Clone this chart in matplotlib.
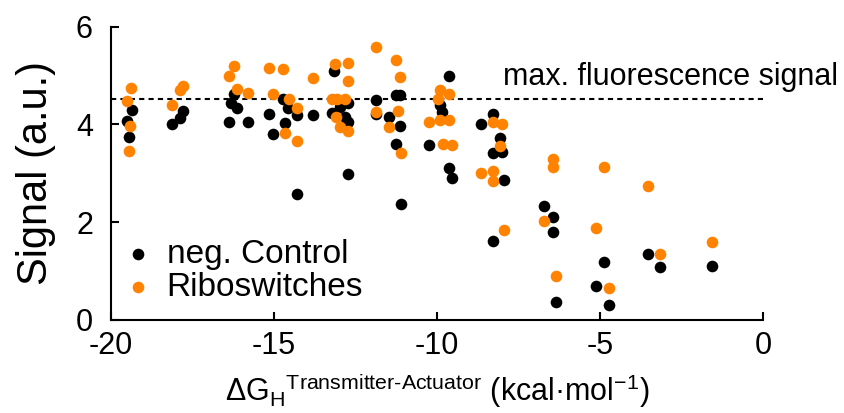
import matplotlib
matplotlib.use('Agg')
import matplotlib.pyplot as plt

plt.rcParams['font.family'] = ['Liberation Sans', 'DejaVu Sans']
plt.rcParams['axes.unicode_minus'] = False
plt.rcParams['mathtext.fontset'] = 'custom'
plt.rcParams['mathtext.rm'] = 'Liberation Sans'
plt.rcParams['mathtext.it'] = 'Liberation Sans:italic'
plt.rcParams['mathtext.bf'] = 'Liberation Sans:bold'

# neg. Control
neg_x = [-19.50, -19.37, -19.44, -18.12, -17.89, -17.79, -16.23, -16.33, -16.13, -16.38,
         -15.80, -15.15, -15.03, -14.74, -14.56, -14.67, -14.31, -14.31, -13.80, -13.16,
         -13.22, -12.98, -12.73, -12.83, -12.73, -12.73, -11.86, -11.86, -11.47, -11.25,
         -11.14, -11.14, -11.25, -11.11, -9.63, -9.90, -9.86, -10.25, -9.63, -9.54,
         -8.67, -8.28, -8.08, -8.28, -8.02, -7.95, -8.30, -6.73, -6.46, -6.46,
         -6.36, -4.89, -5.13, -4.74, -3.55, -3.17, -1.58]
neg_y = [4.08, 4.29, 3.74, 4.01, 4.14, 4.28, 4.62, 4.44, 4.33, 4.06,
         4.04, 4.21, 3.80, 4.53, 4.33, 4.02, 4.19, 2.58, 4.19, 5.10,
         4.24, 4.36, 4.44, 4.16, 4.06, 2.99, 4.51, 4.21, 4.16, 4.60,
         4.60, 3.97, 3.60, 2.37, 4.99, 4.40, 4.26, 3.58, 3.10, 2.90,
         4.00, 4.21, 3.72, 3.41, 3.44, 2.86, 1.62, 2.34, 2.11, 1.79,
         0.37, 1.18, 0.70, 0.31, 1.36, 1.09, 1.10]

# Riboswitches
ribo_x = [-19.40, -19.51, -19.43, -19.44, -18.12, -17.89, -17.79, -16.38, -16.23, -16.13,
          -15.80, -15.15, -14.74, -15.03, -14.54, -14.67, -14.31, -14.29, -13.80, -13.14,
          -12.73, -12.73, -13.22, -13.07, -12.83, -13.09, -12.98, -12.73, -11.86, -11.86,
          -11.47, -11.25, -11.14, -11.20, -11.11, -9.90, -9.63, -9.97, -10.25, -9.90,
          -9.63, -9.82, -9.54, -8.30, -8.02, -8.08, -8.67, -8.30, -8.30, -7.95,
          -6.46, -6.46, -6.73, -6.36, -4.89, -5.13, -4.74, -3.55, -3.17, -1.58]
ribo_y = [4.74, 4.48, 3.97, 3.46, 4.40, 4.70, 4.79, 4.99, 5.20, 4.72,
          4.64, 5.15, 5.13, 4.62, 4.53, 3.82, 4.33, 3.67, 4.94, 5.23,
          5.25, 4.89, 4.52, 4.52, 4.52, 4.15, 3.94, 3.87, 5.59, 4.26,
          3.95, 5.32, 4.98, 4.27, 3.41, 4.70, 4.62, 4.53, 4.04, 4.09,
          4.09, 3.60, 3.58, 4.06, 4.01, 3.56, 3.01, 3.05, 2.85, 1.84,
          3.29, 3.12, 2.03, 0.89, 3.12, 1.89, 0.65, 2.74, 1.35, 1.59]

max_signal = 4.53
x_ticks = [-20, -15, -10, -5, 0]
y_ticks = [0, 2, 4, 6]

fig = plt.figure(figsize=(8.44, 4.13), dpi=100)
ax = fig.add_axes([0.1315, 0.2252, 0.7729, 0.7102])

ax.hlines(max_signal, -20, 0, colors='black', linestyles=(0, (2.5, 2)), lw=1.5, zorder=1)
ax.scatter(neg_x, neg_y, s=70, color='black', linewidths=0, label='neg. Control', zorder=2)
ax.scatter(ribo_x, ribo_y, s=70, color='#ff8201', linewidths=0, label='Riboswitches', zorder=3)

ax.text(-7.98, 4.97, 'max. fluorescence signal', fontsize=22, va='center', ha='left')

ax.set_xlim(-20, 0)
ax.set_ylim(0, 6)
ax.set_xticks(x_ticks)
ax.set_yticks(y_ticks)
for side in ['top', 'right']:
    ax.spines[side].set_visible(False)
for side in ['left', 'bottom']:
    ax.spines[side].set_linewidth(1.5)
ax.tick_params(axis='both', direction='in', length=6, width=1.5, labelsize=22)
ax.tick_params(axis='x', pad=8)
ax.tick_params(axis='y', pad=13)

ax.set_ylabel('Signal (a.u.)', fontsize=30, labelpad=14)
ax.set_xlabel(r'$\Delta\mathrm{G}_{\mathrm{H}}{}^{\text{Transmitter-Actuator}}$ (kcal·mol$^{\mathrm{-1}}$)',
              fontsize=22, labelpad=7)

ax.legend(loc='lower left', bbox_to_anchor=(-0.022, 0.014), frameon=False, fontsize=24,
          handlelength=1.7, handletextpad=0.0, labelspacing=0.05, borderaxespad=0,
          markerscale=1)

fig.savefig('out.png', dpi=100)
